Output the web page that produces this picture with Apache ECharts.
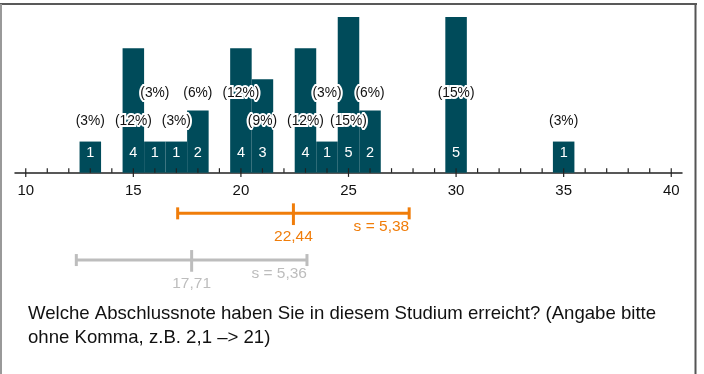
<!DOCTYPE html>
<html>
<head>
<meta charset="utf-8">
<script src="https://cdn.jsdelivr.net/npm/echarts@6/dist/echarts.min.js"></script>
<style>
html,body{margin:0;padding:0;background:#fff;}
#chart{width:704px;height:374px;}
</style>
</head>
<body>
<div id="chart"></div>
<script>
// ---- data ----
const grades = [13, 15, 16, 17, 18, 20, 21, 23, 24, 25, 26, 30, 35];
const counts = [1, 4, 1, 1, 2, 4, 3, 4, 1, 5, 2, 5, 1];
const percentLabels = ['(3%)', '(12%)', '(3%)', '(3%)', '(6%)', '(12%)', '(9%)', '(12%)', '(3%)', '(15%)', '(6%)', '(15%)', '(3%)'];
const tickLabels = ['10', '15', '20', '25', '30', '35', '40'];
const meanValues = [22.44, 17.71];
const sdValues = [5.38, 5.36];
const meanLabels = ['22,44', '17,71'];
const sdLabels = ['s = 5,38', 's = 5,36'];
const questionText = 'Welche Abschlussnote haben Sie in diesem Studium erreicht? (Angabe bitte\nohne Komma, z.B. 2,1 \u2013> 21)';

// ---- layout constants (not data) ----
const labelTier = [0, 0, 1, 0, 1, 1, 0, 0, 1, 0, 1, 1, 0];
const tierValue = [1.64, 2.56];
const AXIS_MIN = 9.5, AXIS_MAX = 40.5;
const BAR = '#004b5a';
const ORANGE = '#f07d0a';
const GREY = '#bdbdbd';
const FONT = 'Liberation Sans, Arial, sans-serif';

const barData = grades.map((g, i) => [g, counts[i], i]);
const tickData = [];
for (let v = 10; v <= 40; v++) tickData.push([v, 0]);
const statData = meanValues.map((m, i) => [m, sdValues[i], i + 0.5, i]);
const statColors = [ORANGE, GREY];

const chart = echarts.init(document.getElementById('chart'), null, {renderer: 'canvas'});

const option = {
  animation: false,
  backgroundColor: '#fff',
  grid: [
    {left: 15, right: 22, top: 17, bottom: 201.3},
    {left: 15, right: 22, top: 190, height: 93.4}
  ],
  xAxis: [
    {
      type: 'value', gridIndex: 0, min: AXIS_MIN, max: AXIS_MAX,
      axisLine: {show: true, onZero: false, lineStyle: {color: '#222', width: 1.5}},
      axisTick: {show: false},
      splitLine: {show: false},
      axisLabel: {
        show: true,
        customValues: tickLabels.map(Number),
        formatter: v => String(v),
        color: '#111', fontSize: 15, fontFamily: FONT, margin: 11
      }
    },
    {
      type: 'value', gridIndex: 1, min: AXIS_MIN, max: AXIS_MAX, show: false
    }
  ],
  yAxis: [
    {type: 'value', gridIndex: 0, min: 0, max: 5, show: false},
    {type: 'value', gridIndex: 1, min: 0, max: 2, inverse: true, show: false}
  ],
  series: [
    {
      type: 'custom', xAxisIndex: 0, yAxisIndex: 0, data: barData, z: 2,
      renderItem: function (params, api) {
        const x = api.value(0), c = api.value(1);
        const p0 = api.coord([x - 0.5, 0]);
        const p1 = api.coord([x + 0.5, c]);
        const pc = api.coord([x, 0.64]);
        return {
          type: 'group',
          children: [
            {type: 'rect', shape: {x: p0[0], y: p1[1], width: p1[0] - p0[0], height: p0[1] - p1[1]}, style: {fill: BAR}},
            {type: 'text', x: pc[0], y: pc[1], style: {text: String(c), fill: '#fff', font: '14.5px ' + FONT, align: 'center', verticalAlign: 'middle'}}
          ]
        };
      }
    },
    {
      type: 'custom', xAxisIndex: 0, yAxisIndex: 0, data: barData, z: 5,
      renderItem: function (params, api) {
        const x = api.value(0), i = api.value(2);
        const pt = api.coord([x, tierValue[labelTier[i]]]);
        return {
          type: 'text', x: pt[0], y: pt[1], z2: 10,
          style: {text: percentLabels[i], fill: '#111', font: '13.8px ' + FONT, align: 'center', verticalAlign: 'middle', stroke: '#fff', lineWidth: 4}
        };
      }
    },
    {
      type: 'custom', xAxisIndex: 0, yAxisIndex: 0, data: tickData, z: 3,
      renderItem: function (params, api) {
        const v = api.value(0);
        const p = api.coord([v, 0]);
        const major = v % 5 === 0;
        return {
          type: 'line',
          shape: {x1: p[0], y1: p[1] - 4.5, x2: p[0], y2: p[1] + (major ? 4.2 : 0)},
          style: {stroke: '#222', lineWidth: 1.2}
        };
      }
    },
    {
      type: 'custom', xAxisIndex: 1, yAxisIndex: 1, data: statData, z: 3,
      renderItem: function (params, api) {
        const m = api.value(0), s = api.value(1), row = api.value(2), i = api.value(3);
        const col = statColors[i];
        const pm = api.coord([m, row]);
        const pl = api.coord([m - s, row]);
        const pr = api.coord([m + s, row]);
        const st = {stroke: col, lineWidth: 3};
        return {
          type: 'group',
          children: [
            {type: 'line', shape: {x1: pl[0], y1: pl[1], x2: pr[0], y2: pr[1]}, style: st},
            {type: 'line', shape: {x1: pl[0], y1: pl[1] - 6, x2: pl[0], y2: pl[1] + 6}, style: st},
            {type: 'line', shape: {x1: pr[0], y1: pr[1] - 6, x2: pr[0], y2: pr[1] + 6}, style: st},
            {type: 'line', shape: {x1: pm[0], y1: pm[1] - 10, x2: pm[0], y2: pm[1] + 11.7}, style: st},
            {type: 'text', x: pm[0], y: pm[1] + 23.4, style: {text: meanLabels[i], fill: col, font: '15.5px ' + FONT, align: 'center', verticalAlign: 'middle'}},
            {type: 'text', x: pr[0], y: pr[1] + 13.8, style: {text: sdLabels[i], fill: col, font: '15.5px ' + FONT, align: 'right', verticalAlign: 'middle'}}
          ]
        };
      }
    }
  ],
  graphic: [
    {type: 'line', shape: {x1: 0, y1: 4, x2: 697, y2: 4}, style: {stroke: '#222', lineWidth: 1.6}},
    {type: 'line', shape: {x1: 1, y1: 4, x2: 1, y2: 380}, style: {stroke: '#999', lineWidth: 2}},
    {type: 'line', shape: {x1: 695.5, y1: 4, x2: 695.5, y2: 380}, style: {stroke: '#555', lineWidth: 2}},
    {type: 'text', left: 28, top: 301.5, style: {text: questionText, fill: '#111', font: '18.6px ' + FONT, lineHeight: 24}}
  ]
};
chart.setOption(option);
</script>
</body>
</html>
